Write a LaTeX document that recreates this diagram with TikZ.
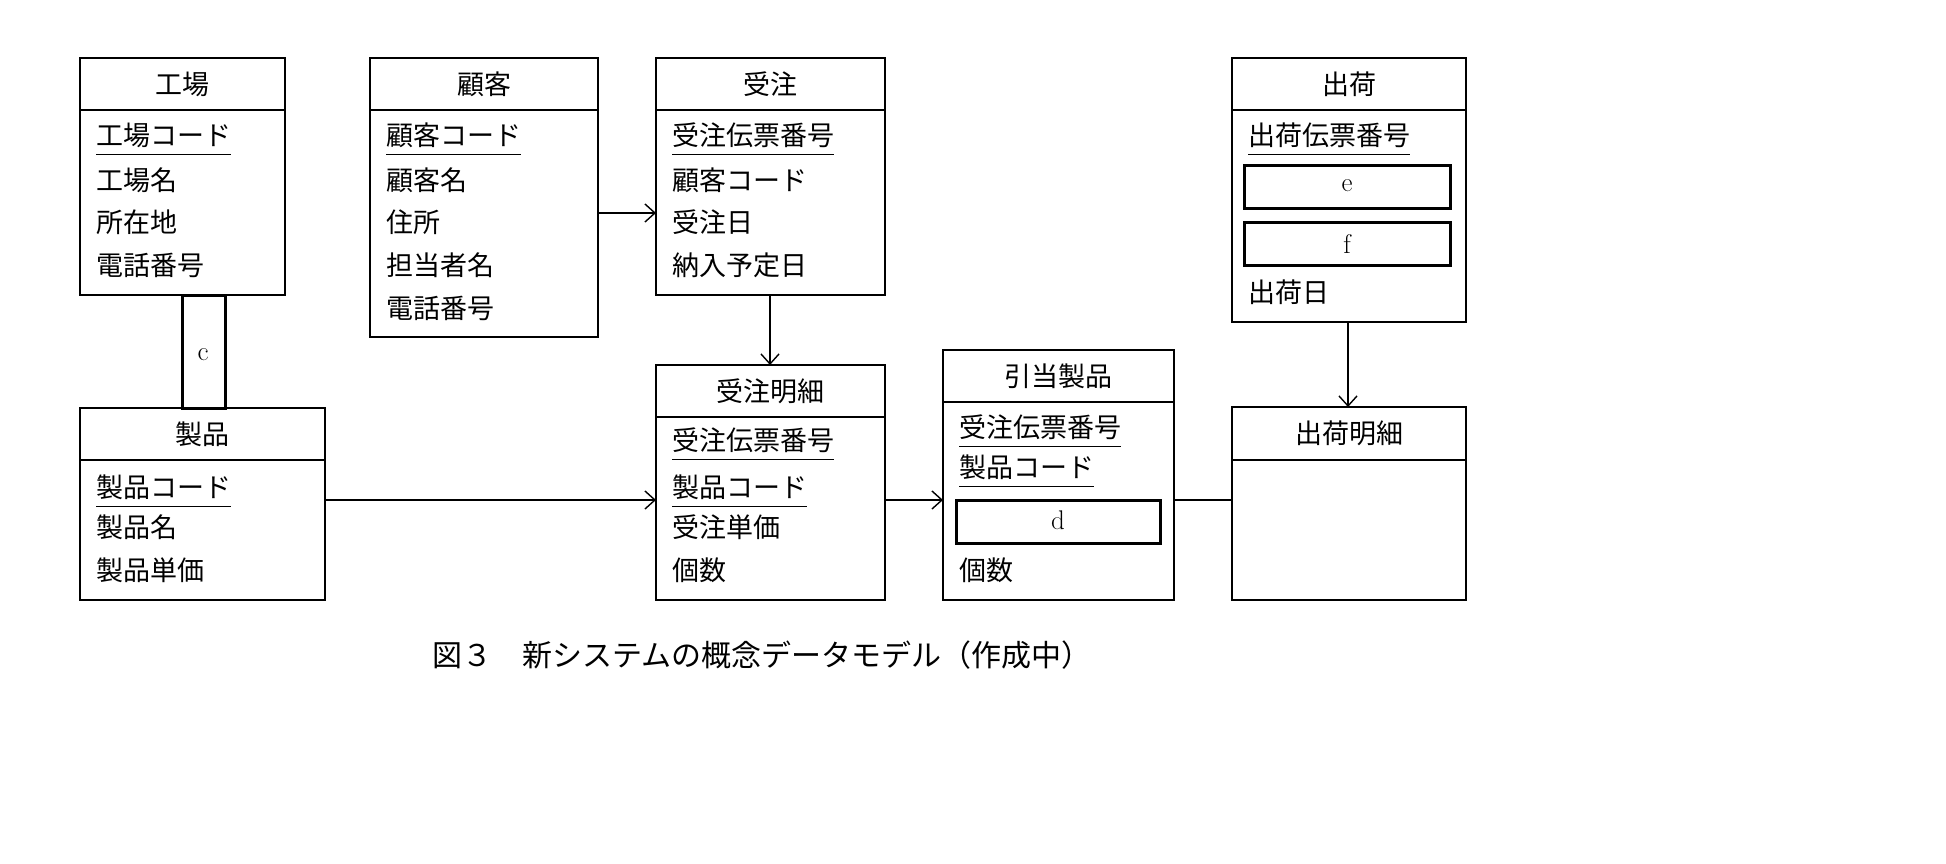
\documentclass[tikz,border=0pt]{standalone}
\usepackage{fontspec}
\newfontfamily\jp{Noto Sans CJK JP}
\usetikzlibrary{arrows.meta}
\begin{document}
\begin{tikzpicture}[x=1pt,y=-1pt,
  box/.style={draw,line width=1.4pt},
  thick box/.style={draw,line width=3pt},
  t/.style={font=\fontsize{27}{30}\selectfont\jp,inner sep=0pt},
  f/.style={t,anchor=west},
  k/.style={t,anchor=west},
  arr/.style={line width=1.4pt,-{Straight Barb[length=10pt,width=18pt]}},
  ln/.style={line width=1.4pt}]
\useasboundingbox (0,0) rectangle (1946,864);
% entity macro-like drawing
\newcommand{\ent}[6]{% name, x1, x2, y1, ytitle, y2
  \draw[box] (#2,#4) rectangle (#3,#6);
  \draw[box] (#2,#5) -- (#3,#5);
  \node[t] (#1) at ({(#2+#3)/2},{(#4+#5)/2}) {#1};
  \coordinate (#1-body) at (#2,#5);}
\newcommand{\key}[4]{% name,x,y,text
  \node[k] (#1) at (#2,#3) {#4};
  \draw[line width=1.4pt] ([yshift=-7pt]#1.south west) -- ([yshift=-7pt]#1.south east);}
% 工場
\ent{工場}{80}{285}{58}{110}{295}
\key{k1}{96}{135}{工場コード}
\node[f] (a1) at (96,180) {工場名};
\node[f] (a2) at (96,222) {所在地};
\node[f] (a3) at (96,265) {電話番号};
% 顧客
\ent{顧客}{370}{598}{58}{110}{337}
\key{k2}{386}{135}{顧客コード}
\node[f] (b1) at (386,180) {顧客名};
\node[f] (b2) at (386,222) {住所};
\node[f] (b3) at (386,265) {担当者名};
\node[f] (b4) at (386,308) {電話番号};
% 受注
\ent{受注}{656}{885}{58}{110}{295}
\key{k3}{672}{135}{受注伝票番号}
\node[f] (c1) at (672,180) {顧客コード};
\node[f] (c2) at (672,222) {受注日};
\node[f] (c3) at (672,265) {納入予定日};
% 出荷
\ent{出荷}{1232}{1466}{58}{110}{322}
\key{k4}{1248}{135}{出荷伝票番号}
\draw[thick box] (1244,165) rectangle (1450,208);
\node[t] (e) at (1347,186) {\rmfamily e};
\draw[thick box] (1244,222) rectangle (1450,265);
\node[t] (ff) at (1347,244) {\rmfamily f};
\node[f] (d1) at (1248,292) {出荷日};
% c
\draw[thick box] (182,295) rectangle (225,408);
\node[t] (c) at (203,355) {\rmfamily c};
% 製品
\ent{製品}{80}{325}{408}{460}{600}
\key{k5}{96}{487}{製品コード}
\node[f] (p1) at (96,527) {製品名};
\node[f] (p2) at (96,570) {製品単価};
% 受注明細
\ent{受注明細}{656}{885}{365}{417}{600}
\key{k6}{672}{440}{受注伝票番号}
\key{k7}{672}{487}{製品コード}
\node[f] (m1) at (672,527) {受注単価};
\node[f] (m2) at (672,570) {個数};
% 引当製品
\ent{引当製品}{943}{1174}{350}{402}{600}
\key{k8}{959}{427}{受注伝票番号}
\key{k9}{959}{467}{製品コード}
\draw[thick box] (956,500) rectangle (1160,543);
\node[t] (d) at (1058,520) {\rmfamily d};
\node[f] (h1) at (959,570) {個数};
% 出荷明細
\ent{出荷明細}{1232}{1466}{407}{460}{600}
% connectors
\draw[arr] (598,213) -- (656,213);
\draw[arr] (770,295) -- (770,365);
\draw[arr] (325,500) -- (656,500);
\draw[arr] (885,500) -- (943,500);
\draw[ln] (1174,500) -- (1232,500);
\draw[arr] (1348,322) -- (1348,407);
% caption
\node[t,font=\fontsize{30}{34}\selectfont\jp] (cap) at (762,655) {図３　新システムの概念データモデル（作成中）};
\end{tikzpicture}
\end{document}
